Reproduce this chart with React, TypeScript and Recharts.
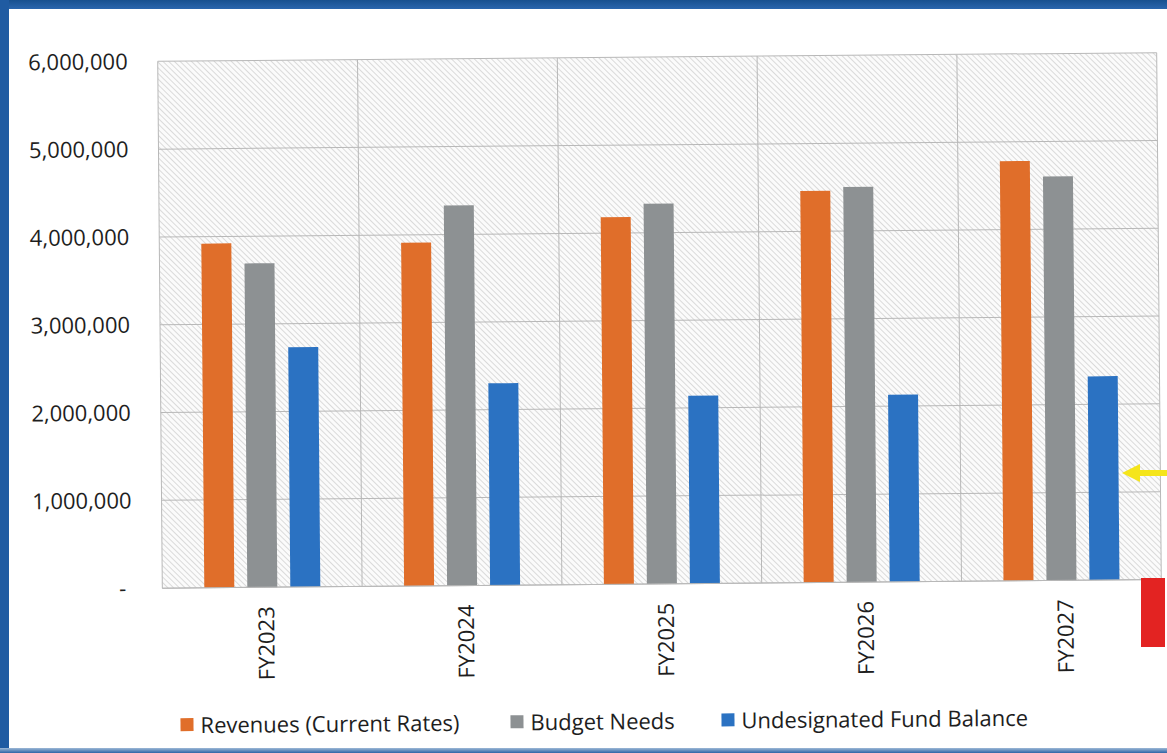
import { Bar, BarChart, CartesianGrid, Legend, XAxis, YAxis } from "recharts"

const categories = ["FY2023", "FY2024", "FY2025", "FY2026", "FY2027"]
const revenues = [3920000, 3910000, 4180000, 4460000, 4780000]
const budgetNeeds = [3690000, 4330000, 4330000, 4500000, 4600000]
const fundBalance = [2730000, 2300000, 2140000, 2130000, 2320000]
const yTicks = [0, 1000000, 2000000, 3000000, 4000000, 5000000, 6000000]

const series = [
  { key: "revenues", name: "Revenues (Current Rates)", color: "#E06E2A" },
  { key: "budgetNeeds", name: "Budget Needs", color: "#8D9193" },
  { key: "fundBalance", name: "Undesignated Fund Balance", color: "#2B72C2" },
]

const data = categories.map((fy, i) => ({
  fy,
  revenues: revenues[i],
  budgetNeeds: budgetNeeds[i],
  fundBalance: fundBalance[i],
}))

const W = 1167
const H = 753
const PLOT_LEFT = 160
const PLOT_RIGHT = 1159
const FONT = "'Open Sans', sans-serif"
const legendLeft = [177, 507, 718]

function YTick({ x, y, payload }: any) {
  const v = payload.value as number
  return (
    <text
      x={v === 0 ? x - 6 : x}
      y={y}
      dy="0.35em"
      textAnchor="end"
      fill="#1e1e1e"
      fontSize={22}
      fontFamily={FONT}
    >
      {v === 0 ? "-" : v.toLocaleString("en-US")}
    </text>
  )
}

function XTick({ x, y, payload }: any) {
  const cx = x + 4
  return (
    <text
      x={cx}
      y={y}
      dy="0.35em"
      textAnchor="end"
      transform={`rotate(-90 ${cx} ${y})`}
      fill="#1e1e1e"
      fontSize={22}
      fontFamily={FONT}
    >
      {payload.value}
    </text>
  )
}

function LegendBox() {
  return (
    <div style={{ position: "relative", width: W, height: 36, fontFamily: FONT, fontSize: 22, color: "#1e1e1e" }}>
      {series.map((s, i) => (
        <div
          key={s.key}
          style={{ position: "absolute", left: legendLeft[i], top: 0, height: 36, display: "flex", alignItems: "center", whiteSpace: "nowrap" }}
        >
          <span style={{ width: 13, height: 13, background: s.color, marginRight: 7, display: "inline-block" }} />
          {s.name}
        </div>
      ))}
    </div>
  )
}

export default function App() {
  // category boundaries for the vertical grid lines
  const step = (PLOT_RIGHT - PLOT_LEFT) / categories.length
  const vLines = [...categories.map((_, i) => PLOT_LEFT + i * step), PLOT_RIGHT]

  return (
    <div style={{ position: "absolute", left: 0, top: 0, width: W, height: H, background: "#fff", overflow: "hidden" }}>
      {/* blue frame */}
      <div style={{ position: "absolute", left: 0, top: 0, width: W, height: 9, background: "linear-gradient(#17508f, #2a66ad)" }} />
      <div style={{ position: "absolute", left: 0, top: 0, width: 9, height: H, background: "#1f5ba2" }} />
      <div style={{ position: "absolute", left: 0, top: 748, width: W, height: 5, background: "linear-gradient(#9db8d6, #2d64a6)" }} />

      <div style={{ position: "absolute", left: 0, top: 0, transform: "rotate(-0.5deg)", transformOrigin: "660px 321px" }}>
        <BarChart
          width={W}
          height={H}
          data={data}
          margin={{ top: 57, right: W - PLOT_RIGHT, bottom: 15, left: 0 }}
          barSize={30}
          barGap={13}
        >
          <defs>
            <pattern id="hatch" width="4" height="4" patternUnits="userSpaceOnUse" patternTransform="rotate(-45)">
              <rect width="4" height="4" fill="#fbfbfb" />
              <line x1="0" y1="0" x2="0" y2="4" stroke="#bababa" strokeWidth="1" />
            </pattern>
          </defs>
          <CartesianGrid
            fill="url(#hatch)"
            fillOpacity={1}
            stroke="#b8b8b8"
            verticalCoordinatesGenerator={() => vLines}
          />
          <XAxis
            dataKey="fy"
            height={108}
            axisLine={{ stroke: "#b8b8b8" }}
            tickLine={false}
            tickSize={0}
            tickMargin={19}
            interval={0}
            tick={<XTick />}
          />
          <YAxis
            width={PLOT_LEFT}
            domain={[0, 6000000]}
            ticks={yTicks}
            axisLine={false}
            tickLine={false}
            tickSize={0}
            tickMargin={30}
            tick={<YTick />}
          />
          <Legend
            verticalAlign="bottom"
            content={<LegendBox />}
            wrapperStyle={{ left: 0, width: W, height: 36 }}
          />
          {series.map((s) => (
            <Bar key={s.key} dataKey={s.key} name={s.name} fill={s.color} isAnimationActive={false} />
          ))}
        </BarChart>
      </div>

      {/* hand-drawn markers on the right edge */}
      <svg style={{ position: "absolute", left: 1110, top: 455, overflow: "visible" }} width={57} height={36}>
        <rect x={22} y={15} width={40} height={6} fill="#f5e51b" />
        <polygon points="12,18 30,9 30,27" fill="#f5e51b" />
      </svg>
      <div style={{ position: "absolute", left: 1141, top: 578, width: 24, height: 69, background: "#e32322" }} />
    </div>
  )
}
